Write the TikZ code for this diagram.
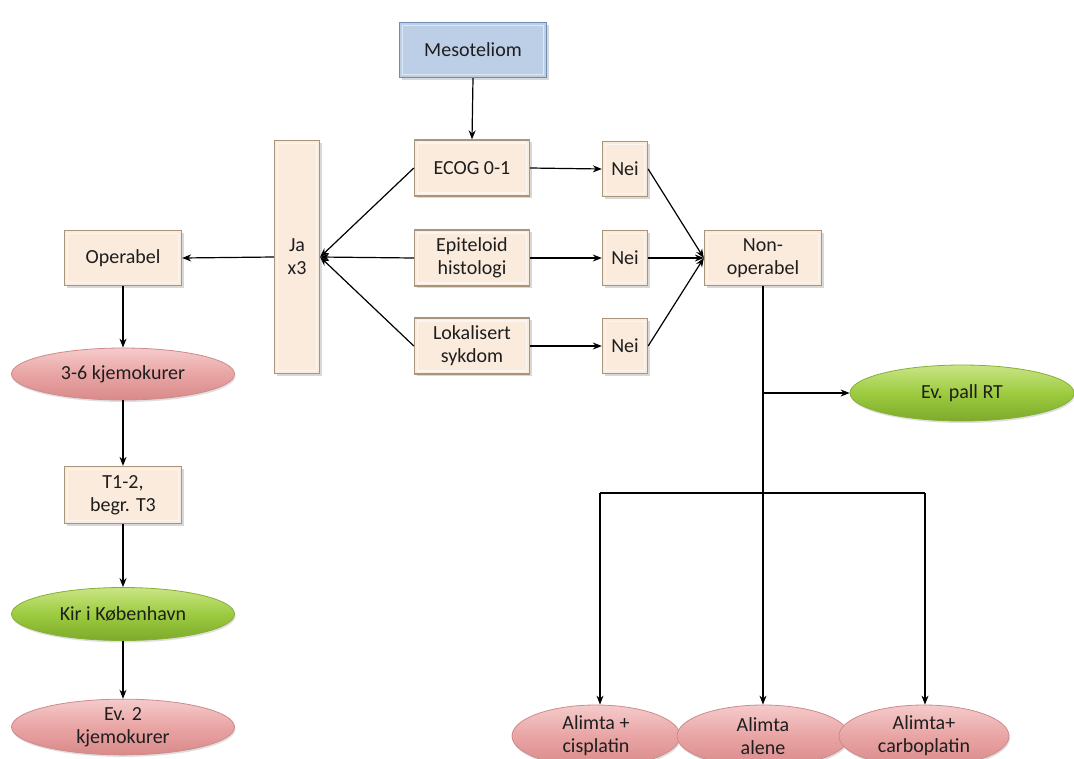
\documentclass[tikz,border=0pt]{standalone}
\usepackage{fontspec}
\setmainfont{Carlito}
\usetikzlibrary{arrows.meta,shadows,shapes.geometric}
\definecolor{boxbg}{HTML}{FBEBDD}
\definecolor{boxedge}{HTML}{A8957E}
\definecolor{bluebg}{HTML}{BCCFE6}
\definecolor{blueedge}{HTML}{6F8CB2}
\definecolor{pinkA}{HTML}{F5CBCB}
\definecolor{pinkB}{HTML}{E9A4A4}
\definecolor{pinkC}{HTML}{D98A8A}
\definecolor{pinkedge}{HTML}{D08A8A}
\definecolor{greenA}{HTML}{C9E585}
\definecolor{greenB}{HTML}{9DCB40}
\definecolor{greenC}{HTML}{7DAA2A}
\definecolor{greenedge}{HTML}{86B034}
\definecolor{txt}{HTML}{1E1E1E}
\tikzset{
  every node/.style={font=\fontsize{20}{23}\selectfont, text=txt, align=center, inner sep=0pt},
  bevel/.style={path picture={
      \draw[white, opacity=0.55, line width=1.2pt]
        ([shift={(3pt,-3pt)}]path picture bounding box.north west) rectangle
        ([shift={(-3pt,3pt)}]path picture bounding box.south east);}},
  pbox/.style={rectangle, fill=boxbg, draw=boxedge, line width=1.3pt, bevel,
    drop shadow={shadow xshift=2pt, shadow yshift=-2pt, opacity=0.3}},
  bbox/.style={rectangle, fill=bluebg, draw=blueedge, line width=1.3pt, bevel,
    drop shadow={shadow xshift=2pt, shadow yshift=-2pt, opacity=0.3}},
  pinkell/.style={ellipse, top color=pinkA, bottom color=pinkC, middle color=pinkB,
    draw=pinkedge, line width=0.8pt,
    drop shadow={shadow xshift=1pt, shadow yshift=-2pt, opacity=0.25}},
  greenell/.style={ellipse, top color=greenA, bottom color=greenC, middle color=greenB,
    draw=greenedge, line width=0.8pt,
    drop shadow={shadow xshift=1pt, shadow yshift=-2pt, opacity=0.25}},
  arr/.style={-{Stealth[length=9pt,width=7pt]}, line width=1.2pt, black},
  ln/.style={line width=1.2pt, black},
}
\begin{document}
\begin{tikzpicture}[x=1pt,y=-1pt]
\useasboundingbox (0,0) rectangle (1074,758);
\clip (0,0) rectangle (1074,758);
\fill[white] (0,0) rectangle (1074,758);

% top and criteria column
\node[bbox, minimum width=147pt, minimum height=55pt] (meso) at (473,50) {Mesoteliom};
\node[pbox, minimum width=115pt, minimum height=56pt] (ecog) at (472,168) {ECOG 0-1};
\node[pbox, minimum width=115pt, minimum height=56pt] (epi) at (472,258) {Epiteloid\\histologi};
\node[pbox, minimum width=115pt, minimum height=56pt] (lok) at (472,346) {Lokalisert\\sykdom};
\node[pbox, minimum width=45pt, minimum height=55pt] (nei1) at (625,169) {Nei};
\node[pbox, minimum width=45pt, minimum height=55pt] (nei2) at (625,258) {Nei};
\node[pbox, minimum width=45pt, minimum height=55pt] (nei3) at (625,346) {Nei};
\node[pbox, minimum width=117pt, minimum height=55pt] (nonop) at (763,258) {Non-\\operabel};
\node[pbox, minimum width=45pt, minimum height=233pt] (ja) at (297,257) {Ja\\x3};

% operable branch
\node[pbox, minimum width=117pt, minimum height=55pt] (op) at (123,258) {Operabel};
\node[pinkell, minimum width=223pt, minimum height=52pt] (kjemo) at (123,374) {3-6 kjemokurer};
\node[pbox, minimum width=117pt, minimum height=57pt] (tstage) at (123,495) {T1-2,\\begr. T3};
\node[greenell, minimum width=223pt, minimum height=53pt] (kir) at (123,614) {Kir i København};
\node[pinkell, minimum width=223pt, minimum height=55pt] (ev2) at (123,727) {Ev. 2\\kjemokurer};

% non-operable branch
\node[greenell, minimum width=224pt, minimum height=56pt] (pall) at (962,393) {Ev. pall RT};
\node[pinkell, minimum width=168pt, minimum height=62pt] (cis) at (596,736) {Alimta +\\cisplatin};
\node[pinkell, minimum width=172pt, minimum height=62pt] (alene) at (763,736) {Alimta\\alene};
\node[pinkell, minimum width=170pt, minimum height=62pt] (carbo) at (924,736) {Alimta+\\carboplatin};

\coordinate (trunkbranch) at (763,393);
\coordinate (trunkend) at (763,493);
\coordinate (barL) at (600,493);
\coordinate (barR) at (925,493);

% connectors
\draw[arr] (meso.south) -- (ecog.north);
\draw[arr] (ecog.east) -- (nei1.west);
\draw[arr] (epi.east) -- (nei2.west);
\draw[arr] (lok.east) -- (nei3.west);
\draw[arr] (nei1.east) -- (nonop.west);
\draw[arr] (nei2.east) -- (nonop.west);
\draw[arr] (nei3.east) -- (nonop.west);
\draw[arr] (ecog.west) -- (ja.east);
\draw[arr] (epi.west) -- (ja.east);
\draw[arr] (lok.west) -- (ja.east);
\draw[arr] (ja.west) -- (op.east);
\draw[arr] (op.south) -- (kjemo.north);
\draw[arr] (kjemo.south) -- (tstage.north);
\draw[arr] (tstage.south) -- (kir.north);
\draw[arr] (kir.south) -- (ev2.north);
\draw[ln] (nonop.south) -- (trunkend);
\draw[arr] (trunkbranch) -- (pall.west);
\draw[ln] (barL) -- (barR);
\draw[arr] (barL) -- (barL |- cis.north);
\draw[arr] (trunkend) -- (alene.north);
\draw[arr] (barR) -- (barR |- carbo.north);
\end{tikzpicture}
\end{document}
